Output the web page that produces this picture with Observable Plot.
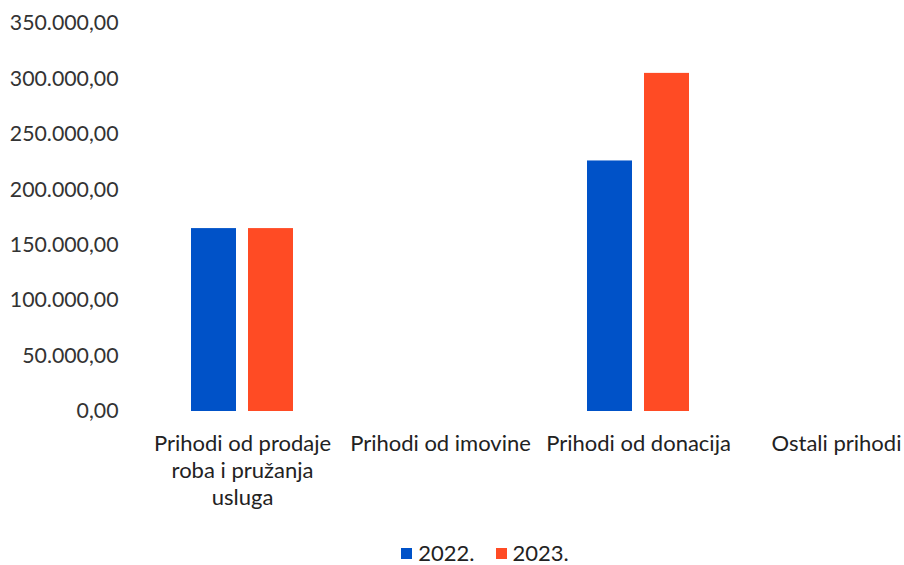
<!DOCTYPE html>
<html>
<head>
<meta charset="utf-8">
<script src="https://cdn.jsdelivr.net/npm/d3@7"></script>
<script src="https://cdn.jsdelivr.net/npm/@observablehq/plot@0.6"></script>
<style>
  body { margin: 0; background: #fff; font-family: Lato, "Open Sans", sans-serif; overflow: hidden; }
  #legend { display: flex; justify-content: center; align-items: center; gap: 21px; padding-left: 66px; font-size: 22px; line-height: 22px; height: 22px; color: #222; margin-top: 22px; }
  #legend span.sw { display: inline-block; width: 11px; height: 11px; margin-right: 6px; }
  #legend .item { display: flex; align-items: center; }
</style>
</head>
<body>
<div id="chart"></div>
<div id="legend"></div>
<script>
const categories = ["Prihodi od prodaje roba i pružanja usluga", "Prihodi od imovine", "Prihodi od donacija", "Ostali prihodi"];
const categoryLabels = ["Prihodi od prodaje\nroba i pružanja\nusluga", "Prihodi od imovine", "Prihodi od donacija", "Ostali prihodi"];
const years = ["2022.", "2023."];
const values2022 = [165000, 0, 226000, 0];
const values2023 = [165000, 0, 305000, 0];
const colors = ["#0052c8", "#ff4b24"];
const yTicks = [0, 50000, 100000, 150000, 200000, 250000, 300000, 350000];

const data = [];
categories.forEach((c, i) => {
  data.push({category: c, year: years[0], value: values2022[i]});
  data.push({category: c, year: years[1], value: values2023[i]});
});

const locale = d3.formatLocale({decimal: ",", thousands: ".", grouping: [3], currency: ["", ""]});
const fmt = locale.format(",.2f");
const labelOf = new Map(categories.map((c, i) => [c, categoryLabels[i]]));

const chart = Plot.plot({
  width: 904,
  height: 520,
  marginLeft: 142,
  marginRight: 0,
  marginTop: 23,
  marginBottom: 109,
  style: {fontFamily: "Lato, 'Open Sans', sans-serif", fontSize: "21px", color: "#222"},
  fx: {domain: categories, range: [142, 936], paddingInner: 0, paddingOuter: 0, label: null},
  x: {domain: years, paddingInner: 0.207, paddingOuter: 0.815, axis: null},
  y: {domain: [0, 350000], label: null},
  color: {domain: years, range: colors},
  marks: [
    Plot.barY(data, {fx: "category", x: "year", y: "value", fill: "year"}),
    Plot.axisY({ticks: yTicks, tickFormat: fmt, tickSize: 0, tickPadding: 25, fontSize: 21.3, fill: "#333", label: null}),
    Plot.axisFx({anchor: "bottom", tickSize: 0, tickPadding: 20, tickFormat: c => labelOf.get(c), fontSize: 22, lineHeight: 1.23, fill: "#222", label: null})
  ]
});
document.getElementById("chart").appendChild(chart);

const legend = document.getElementById("legend");
years.forEach((y, i) => {
  const item = document.createElement("div");
  item.className = "item";
  const sw = document.createElement("span");
  sw.className = "sw";
  sw.style.background = colors[i];
  item.appendChild(sw);
  item.appendChild(document.createTextNode(y));
  legend.appendChild(item);
});
</script>
</body>
</html>
